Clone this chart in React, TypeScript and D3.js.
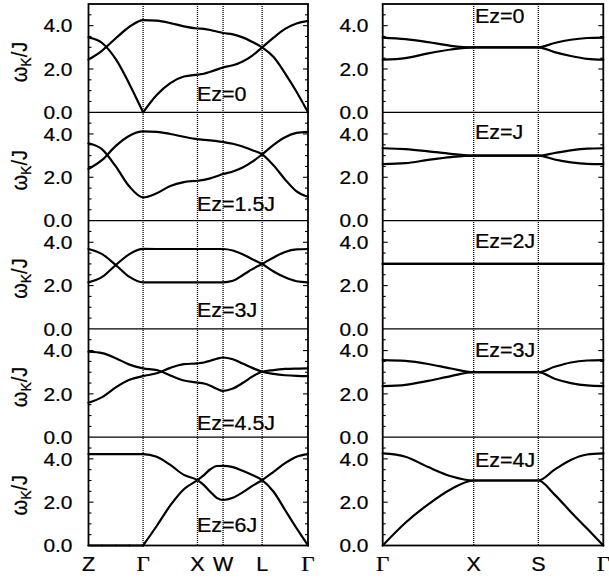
import React from "react";
import * as d3 from "d3";

// High-symmetry points along each k-path and their path coordinates
const LEFT_POINTS = ["Z", "Γ", "X", "W", "L", "Γ"];
const LEFT_K = [0, 1, 1.996, 2.465, 3.18, 4.02];
const RIGHT_POINTS = ["Γ", "X", "S", "Γ"];
const RIGHT_K = [0, 1, 1.71, 2.424];
// sampling positions inside every path segment (fraction of the segment)
const SEGMENT_STEPS = [0, 0.25, 0.5, 0.75, 1];
const Y_LABEL_TICKS = [0, 2, 4];

const LEFT_FIELDS = ["Ez=0", "Ez=1.5J", "Ez=3J", "Ez=4.5J", "Ez=6J"];
const RIGHT_FIELDS = ["Ez=0", "Ez=J", "Ez=2J", "Ez=3J", "Ez=4J"];

// ω_k/J along Z-Γ-X-W-L-Γ (5 samples on the first segment, 4 on each following one)
const left0a = [3.46, 3.2, 2.45, 1.3, 0, 0.8, 1.35, 1.65, 1.74, 1.78, 1.87, 1.97, 2.07, 2.17, 2.35, 2.62, 3.0, 3.45, 3.85, 4.1, 4.22];
const left0b = [2.43, 2.85, 3.42, 3.95, 4.26, 4.23, 4.12, 3.97, 3.87, 3.85, 3.8, 3.73, 3.66, 3.6, 3.46, 3.25, 3.0, 2.55, 1.8, 0.95, 0];
const left15a = [3.57, 3.29, 2.5, 1.57, 1.07, 1.26, 1.6, 1.78, 1.84, 1.88, 1.95, 2.05, 2.15, 2.27, 2.45, 2.72, 3.06, 3.5, 3.85, 4.05, 4.1];
const left15b = [2.38, 2.8, 3.45, 3.92, 4.12, 4.1, 4.0, 3.87, 3.76, 3.73, 3.7, 3.67, 3.63, 3.55, 3.42, 3.25, 3.06, 2.55, 1.9, 1.35, 1.1];
const left3a = [3.69, 3.45, 2.95, 2.4, 2.15, 2.15, 2.15, 2.15, 2.15, 2.15, 2.15, 2.15, 2.15, 2.22, 2.48, 2.76, 3.0, 3.3, 3.55, 3.67, 3.69];
const left3b = [2.15, 2.4, 2.95, 3.45, 3.69, 3.69, 3.69, 3.69, 3.69, 3.69, 3.69, 3.69, 3.69, 3.62, 3.45, 3.22, 3.0, 2.65, 2.38, 2.2, 2.15];
const left45a = [3.95, 3.88, 3.65, 3.35, 3.18, 3.1, 2.85, 2.62, 2.52, 2.48, 2.38, 2.24, 2.14, 2.25, 2.5, 2.8, 3.02, 3.1, 3.15, 3.17, 3.18];
const left45b = [1.59, 1.85, 2.3, 2.65, 2.82, 2.95, 3.2, 3.37, 3.41, 3.45, 3.53, 3.62, 3.68, 3.6, 3.4, 3.2, 3.02, 2.92, 2.86, 2.83, 2.82];
const left6a = [4.22, 4.22, 4.22, 4.22, 4.22, 4.1, 3.72, 3.26, 3.02, 2.79, 2.48, 2.2, 2.1, 2.2, 2.45, 2.75, 3.02, 3.4, 3.8, 4.1, 4.22];
const left6b = [0, 0, 0, 0, 0, 0.9, 1.85, 2.6, 3.02, 3.25, 3.52, 3.67, 3.68, 3.62, 3.45, 3.25, 3.02, 2.48, 1.64, 0.8, 0];

// ω_k/J along Γ-X-S-Γ
const right0a = [3.45, 3.38, 3.24, 3.07, 3.0, 3.0, 3.0, 3.0, 3.0, 3.2, 3.35, 3.43, 3.45];
const right0b = [2.43, 2.5, 2.72, 2.9, 3.0, 3.0, 3.0, 3.0, 3.0, 2.78, 2.6, 2.47, 2.43];
const right1a = [3.34, 3.3, 3.2, 3.08, 3.0, 3.0, 3.0, 3.0, 3.0, 3.12, 3.24, 3.32, 3.34];
const right1b = [2.61, 2.65, 2.8, 2.93, 3.0, 3.0, 3.0, 3.0, 3.0, 2.82, 2.69, 2.62, 2.61];
const right2a = [3.0, 3.0, 3.0, 3.0, 3.0, 3.0, 3.0, 3.0, 3.0, 3.0, 3.0, 3.0, 3.0];
const right2b = [3.0, 3.0, 3.0, 3.0, 3.0, 3.0, 3.0, 3.0, 3.0, 3.0, 3.0, 3.0, 3.0];
const right3a = [3.56, 3.52, 3.38, 3.17, 3.0, 3.0, 3.0, 3.0, 3.0, 3.25, 3.45, 3.54, 3.56];
const right3b = [2.36, 2.42, 2.6, 2.82, 3.0, 3.0, 3.0, 3.0, 3.0, 2.7, 2.5, 2.39, 2.36];
const right4a = [4.25, 4.1, 3.62, 3.2, 3.0, 3.0, 3.0, 3.0, 3.0, 3.5, 3.95, 4.2, 4.25];
const right4b = [0, 1.05, 1.9, 2.6, 3.0, 3.0, 3.0, 3.0, 3.0, 2.35, 1.55, 0.78, 0];

const LEFT_BRANCHES = [
  [left0a, left0b],
  [left15a, left15b],
  [left3a, left3b],
  [left45a, left45b],
  [left6a, left6b],
];
const RIGHT_BRANCHES = [
  [right0a, right0b],
  [right1a, right1b],
  [right2a, right2b],
  [right3a, right3b],
  [right4a, right4b],
];

// ---- layout ----
const WIDTH = 609;
const HEIGHT = 580;
const PANEL_TOP = 4;
const PANEL_H = 108.3;
const Y_MAX = 5;
const SANS = "'Liberation Sans', Arial, Helvetica, sans-serif";
const SERIF = "'Liberation Serif', 'Times New Roman', serif";
const TICK_SIZE = 19;
const FIELD_SIZE = 19.5;
const STRETCH = 1.1;
// baseline level (in ω_k/J units) of each field label
const LEFT_FIELD_LEVELS = [0.52, 0.44, 0.55, 0.33, 0.64];
const RIGHT_FIELD_LEVELS = [4.14, 3.75, 3.73, 3.7, 3.64];

type Pt = [number, number];

function samplePath(ks: number[], values: number[]): Pt[] {
  const pts: Pt[] = [];
  for (let s = 0; s < ks.length - 1; s++) {
    SEGMENT_STEPS.forEach((f, j) => {
      if (s > 0 && j === 0) return;
      pts.push([ks[s] + f * (ks[s + 1] - ks[s]), values[pts.length]]);
    });
  }
  return pts;
}

// gapless modes touch zero with a cusp: break the spline there
function splitAtZeros(pts: Pt[]): Pt[][] {
  const pieces: Pt[][] = [];
  let cur: Pt[] = [pts[0]];
  for (let i = 1; i < pts.length; i++) {
    cur.push(pts[i]);
    if (pts[i][1] === 0 && i < pts.length - 1) {
      pieces.push(cur);
      cur = [pts[i]];
    }
  }
  pieces.push(cur);
  return pieces;
}

function StretchText(props: {
  x: number;
  y: number;
  anchor?: string;
  family?: string;
  size?: number;
  children: React.ReactNode;
}) {
  const { x, y, anchor = "start", family = SANS, size = TICK_SIZE, children } = props;
  return (
    <text
      transform={`translate(${x},${y}) scale(${STRETCH},1)`}
      textAnchor={anchor}
      fontFamily={family}
      fontSize={size}
      fill="#000"
      stroke="#000"
      strokeWidth={0.25}
    >
      {children}
    </text>
  );
}

const fmt = d3.format(".1f");

function Column(props: {
  ks: number[];
  names: string[];
  range: [number, number];
  fields: string[];
  branches: number[][][];
  levels: number[];
  tickLabelX: number;
  fieldX: number;
  showYLabel: boolean;
}) {
  const { ks, names, range, fields, branches, levels, tickLabelX, fieldX, showYLabel } = props;
  const x = d3.scaleLinear().domain([ks[0], ks[ks.length - 1]]).range(range);
  const top = PANEL_TOP;
  const bottom = PANEL_TOP + PANEL_H * fields.length;
  const minorTicks = d3.range(0.5, Y_MAX, 0.5);

  return (
    <g>
      {/* dotted guides at the inner high-symmetry points */}
      {ks.slice(1, -1).map((k, i) => (
        <line
          key={`g${i}`}
          x1={x(k)}
          x2={x(k)}
          y1={top}
          y2={bottom}
          stroke="#000"
          strokeWidth={1.3}
          strokeDasharray="1,1"
        />
      ))}
      {fields.map((field, p) => {
        const y = d3
          .scaleLinear()
          .domain([0, Y_MAX])
          .range([PANEL_TOP + PANEL_H * (p + 1), PANEL_TOP + PANEL_H * p]);
        const line = d3
          .line<Pt>()
          .x((d) => x(d[0]))
          .y((d) => y(d[1]))
          .curve(d3.curveMonotoneX);
        return (
          <g key={`p${p}`}>
            {p < fields.length - 1 && (
              <line x1={range[0]} x2={range[1]} y1={y(0)} y2={y(0)} stroke="#000" strokeWidth={1.3} />
            )}
            {branches[p].map((vals, b) =>
              splitAtZeros(samplePath(ks, vals)).map((piece, q) => (
                <path
                  key={`c${b}-${q}`}
                  d={line(piece) || ""}
                  fill="none"
                  stroke="#000"
                  strokeWidth={2.2}
                  strokeLinejoin="round"
                  strokeLinecap="round"
                />
              ))
            )}
            {minorTicks.map((t) => {
              const len = t % 2 === 0 ? 5 : 3;
              return (
                <g key={`t${t}`}>
                  <line x1={range[0]} x2={range[0] + len} y1={y(t)} y2={y(t)} stroke="#000" strokeWidth={1.1} />
                  <line x1={range[1]} x2={range[1] - len} y1={y(t)} y2={y(t)} stroke="#000" strokeWidth={1.1} />
                </g>
              );
            })}
            {Y_LABEL_TICKS.map((t) => (
              <StretchText key={`l${t}`} x={tickLabelX} y={y(t) + 6.8} anchor="end">
                {fmt(t)}
              </StretchText>
            ))}
            <StretchText x={fieldX} y={y(levels[p])} size={FIELD_SIZE}>
              {field}
            </StretchText>
            {showYLabel && (
              <text
                transform={`translate(27,${PANEL_TOP + PANEL_H * p + 58}) scale(${STRETCH},1) rotate(-90)`}
                textAnchor="middle"
                fontFamily={SANS}
                fontSize={20}
                fill="#000"
                stroke="#000"
                strokeWidth={0.25}
              >
                ω
                <tspan fontSize={14} dy={4}>
                  K
                </tspan>
                <tspan dy={-4}>/J</tspan>
              </text>
            )}
          </g>
        );
      })}
      {/* frame */}
      <rect
        x={range[0]}
        y={top}
        width={range[1] - range[0]}
        height={bottom - top}
        fill="none"
        stroke="#000"
        strokeWidth={1.8}
      />
      {/* k-path labels */}
      {names.map((n, i) => (
        <StretchText
          key={`n${i}`}
          x={x(ks[i])}
          y={571}
          anchor="middle"
          family={n === "Γ" ? SERIF : SANS}
          size={n === "Γ" ? 21 : 19.5}
        >
          {n}
        </StretchText>
      ))}
    </g>
  );
}

export default function App() {
  return (
    <svg
      width={WIDTH}
      height={HEIGHT}
      viewBox={`0 0 ${WIDTH} ${HEIGHT}`}
      style={{ position: "absolute", left: 0, top: 0, background: "#fff" }}
    >
      <rect x={0} y={0} width={WIDTH} height={HEIGHT} fill="#fff" />
      <Column
        ks={LEFT_K}
        names={LEFT_POINTS}
        range={[88.5, 308]}
        fields={LEFT_FIELDS}
        branches={LEFT_BRANCHES}
        levels={LEFT_FIELD_LEVELS}
        tickLabelX={72.5}
        fieldX={197}
        showYLabel={true}
      />
      <Column
        ks={RIGHT_K}
        names={RIGHT_POINTS}
        range={[382.7, 603.3]}
        fields={RIGHT_FIELDS}
        branches={RIGHT_BRANCHES}
        levels={RIGHT_FIELD_LEVELS}
        tickLabelX={368.5}
        fieldX={475}
        showYLabel={false}
      />
    </svg>
  );
}
